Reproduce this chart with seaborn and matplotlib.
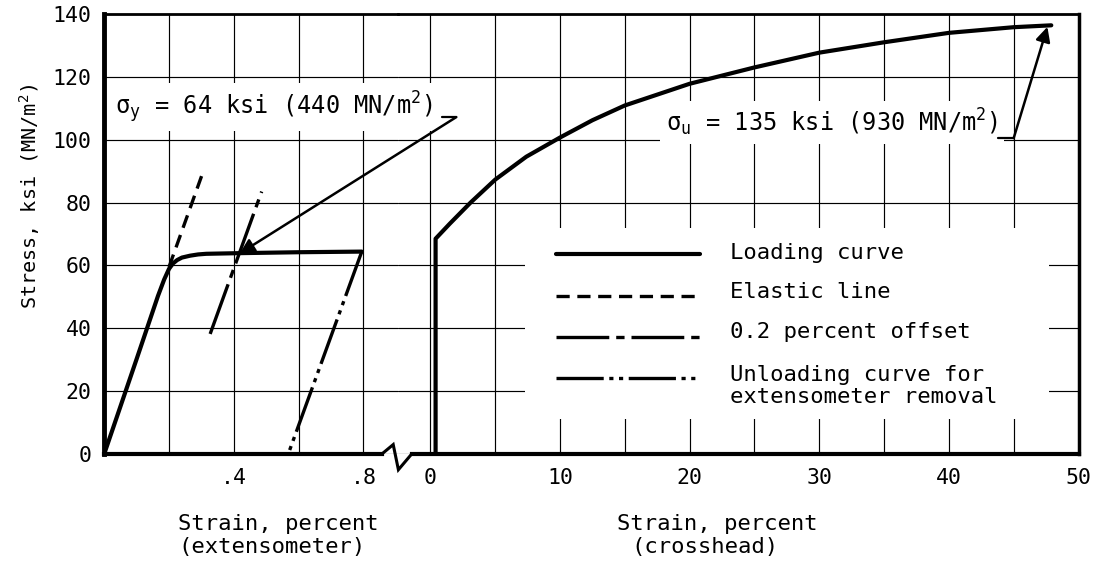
import matplotlib
matplotlib.use("Agg")
import matplotlib.pyplot as plt
import seaborn as sns
from matplotlib.patches import Rectangle
from matplotlib.lines import Line2D

# ---------------- data ----------------
# extensometer part (strain in percent, stress in ksi)
ext_load_strain = [0.0, 0.10, 0.166, 0.185, 0.200, 0.212, 0.225, 0.240, 0.265, 0.290, 0.315, 0.414, 0.600, 0.795]
ext_load_stress = [0.0, 30.2, 50.3, 55.5, 58.9, 60.6, 61.7, 62.5, 63.1, 63.5, 63.7, 63.9, 64.2, 64.4]
elastic_strain = [0.200, 0.306]
elastic_stress = [59.5, 90.0]
offset_strain = [0.327, 0.486]
offset_stress = [38.2, 83.5]
unload_strain = [0.795, 0.568]
unload_stress = [64.4, 0.0]
# crosshead part
xh_strain = [0.4, 0.4, 1.5, 3.1, 5, 7.4, 10, 12.5, 15, 20, 25, 30, 35, 40, 45, 47.9]
xh_stress = [0.0, 68.5, 73.3, 80.0, 87.3, 94.6, 100.7, 106.2, 110.9, 117.8, 123.0, 127.7, 131.0, 134.0, 135.8, 136.4]

y_ticks = [0, 20, 40, 60, 80, 100, 120, 140]
ext_ticks = [0.4, 0.8]
ext_ticklabels = [".4", ".8"]
ext_minor = [0.2, 0.6]
xh_ticks = [0, 10, 20, 30, 40, 50]
xh_minor = [5, 15, 25, 35, 45]

legend_labels = ["Loading curve", "Elastic line", "0.2 percent offset",
                 "Unloading curve for\nextensometer removal"]

sy_text = r"σ$_\mathregular{y}$ = 64 ksi (440 MN/m$^\mathregular{2}$)"
su_text = r"σ$_\mathregular{u}$ = 135 ksi (930 MN/m$^\mathregular{2}$)"

# ---------------- style ----------------
sns.set_style("white")
plt.rcParams['font.family'] = ['DejaVu Sans Mono', 'DejaVu Sans']
plt.rcParams['lines.scale_dashes'] = False
plt.rcParams['mathtext.fontset'] = 'dejavusans'
for key in ('text.color', 'xtick.color', 'ytick.color', 'axes.labelcolor'):
    plt.rcParams[key] = 'black'

W, H = 1100, 561
fig = plt.figure(figsize=(W / 100, H / 100), dpi=100)

def fx(px):
    return px / W

def fy(py):
    return 1 - py / H

x_join = 398.0
top_px, bot_px = 14.0, 454.0
ax_l = fig.add_axes([fx(104.2), fy(bot_px), fx(x_join - 104.2), (bot_px - top_px) / H])
ax_r = fig.add_axes([fx(x_join), fy(bot_px), fx(1078.5 - x_join), (bot_px - top_px) / H])

ax_l.set_xlim(0, (x_join - 104.2) / 324.0)
ax_r.set_xlim(-(430.4 - x_join) / 12.962, 50)
for ax in (ax_l, ax_r):
    ax.set_ylim(0, 140)
    ax.set_yticks(y_ticks)
    ax.set_axisbelow(True)
    ax.tick_params(which='both', length=0)
    ax.patch.set_alpha(0)

ax_l.set_xticks(ext_ticks)
ax_l.set_xticklabels(ext_ticklabels)
ax_l.set_xticks(ext_minor, minor=True)
ax_l.set_yticklabels([str(v) for v in y_ticks])
ax_l.tick_params(axis='y', pad=9, labelsize=15.5)
ax_l.tick_params(axis='x', pad=10, labelsize=15.5)

ax_r.set_xticks(xh_ticks)
ax_r.set_xticklabels([str(v) for v in xh_ticks])
ax_r.set_xticks(xh_minor, minor=True)
ax_r.tick_params(axis='y', labelleft=False)
ax_r.tick_params(axis='x', pad=10, labelsize=15.5)

for ax in (ax_l, ax_r):
    ax.grid(True, which='both', color='black', lw=0.85)

# spines
ax_l.spines['right'].set_visible(False)
ax_r.spines['left'].set_visible(False)
for ax in (ax_l, ax_r):
    for s in ax.spines.values():
        s.set_color('black')
    ax.spines['top'].set_linewidth(2.0)
    ax.spines['bottom'].set_linewidth(3.0)
ax_l.spines['left'].set_linewidth(3.5)
ax_r.spines['right'].set_linewidth(2.5)
ax_l.spines['bottom'].set_bounds(0, 0.857)
ax_r.spines['bottom'].set_bounds(-1.45, 50)

# axis break zigzag
ax_l.add_line(Line2D([0.857, 0.892, 0.908, 0.949], [0, 3, -5, 0], color='black',
                     lw=2.2, clip_on=False, solid_joinstyle='miter'))

# white area behind the legend
ax_r.add_patch(Rectangle((7.3, 11), 40.4, 61, facecolor='white', edgecolor='none', zorder=1))

# ---------------- curves ----------------
solid_ls = '-'
elastic_ls = (0, (9.5, 5.5))
offset_ls = (0, (38, 5, 6, 5))
unload_ls = (0, (34, 4, 3, 4, 3, 4))


def draw(ax, xs, ys, ls, lw):
    n = len(ax.lines)
    sns.lineplot(x=xs, y=ys, ax=ax, color='black', sort=False, estimator=None,
                 linewidth=lw)
    ln = ax.lines[n]
    ln.set_linestyle(ls)
    ln.set_zorder(3)
    ln.set_solid_joinstyle('round')
    return ln

draw(ax_l, ext_load_strain, ext_load_stress, solid_ls, 3.0)
draw(ax_l, elastic_strain, elastic_stress, elastic_ls, 2.4)
draw(ax_l, offset_strain, offset_stress, offset_ls, 2.4)
draw(ax_l, unload_strain, unload_stress, unload_ls, 2.4)
draw(ax_r, xh_strain, xh_stress, solid_ls, 3.0)

# ---------------- legend (manual) ----------------
leg_styles = [(solid_ls, 3.0), (elastic_ls, 2.4), (offset_ls, 2.4), (unload_ls, 2.4)]
leg_line_y = [63.6, 50.3, 37.2, 24.2]
leg_text_y = [63.9, 51.4, 38.7, 21.6]
for (ls, lw), ly, ty, lab in zip(leg_styles, leg_line_y, leg_text_y, legend_labels):
    ax_r.add_line(Line2D([9.7, 20.8], [ly, ly], color='black', lw=lw, linestyle=ls, zorder=3))
    ax_r.text(23.1, ty, lab, fontsize=16, va='center', ha='left', zorder=3,
              linespacing=1.15)

# ---------------- annotations ----------------
box = dict(boxstyle='square,pad=0.25', facecolor='white', edgecolor='none')
ax_r.text(-24.3, 108.0, sy_text, fontsize=17, va='baseline', ha='left',
          bbox=box, zorder=2, clip_on=False)
ax_r.add_line(Line2D([0.9, 2.0], [107.2, 107.2], color='black', lw=1.6, zorder=3, clip_on=False))
ax_r.annotate("", xy=(0.418, 63.8), xycoords=ax_l.transData,
              xytext=(2.0, 107.2), textcoords='data',
              arrowprops=dict(arrowstyle='-|>', color='black', lw=1.8,
                              mutation_scale=22, shrinkA=0, shrinkB=0),
              annotation_clip=False, zorder=4)

ax_r.text(18.2, 102.5, su_text, fontsize=17, va='baseline', ha='left',
          bbox=box, zorder=2)
ax_r.add_line(Line2D([43.8, 45.0], [100.5, 100.5], color='black', lw=1.6, zorder=3))
ax_r.annotate("", xy=(47.6, 135.9), xytext=(45.0, 100.5),
              arrowprops=dict(arrowstyle='-|>', color='black', lw=1.8,
                              mutation_scale=22, shrinkA=0, shrinkB=0),
              annotation_clip=False, zorder=4)

# ---------------- axis titles ----------------
fig.text(fx(30), fy(196), r"Stress, ksi (MN/m$^\mathregular{2}$)", rotation=90,
         va='center', ha='center', fontsize=14.5)
fig.text(fx(178), fy(524), "Strain, percent", va='center', ha='left', fontsize=16)
fig.text(fx(178), fy(547), "(extensometer)", va='center', ha='left', fontsize=16)
fig.text(fx(617), fy(524), "Strain, percent", va='center', ha='left', fontsize=16)
fig.text(fx(631), fy(547), "(crosshead)", va='center', ha='left', fontsize=16)

fig.savefig("out.png", dpi=100)
